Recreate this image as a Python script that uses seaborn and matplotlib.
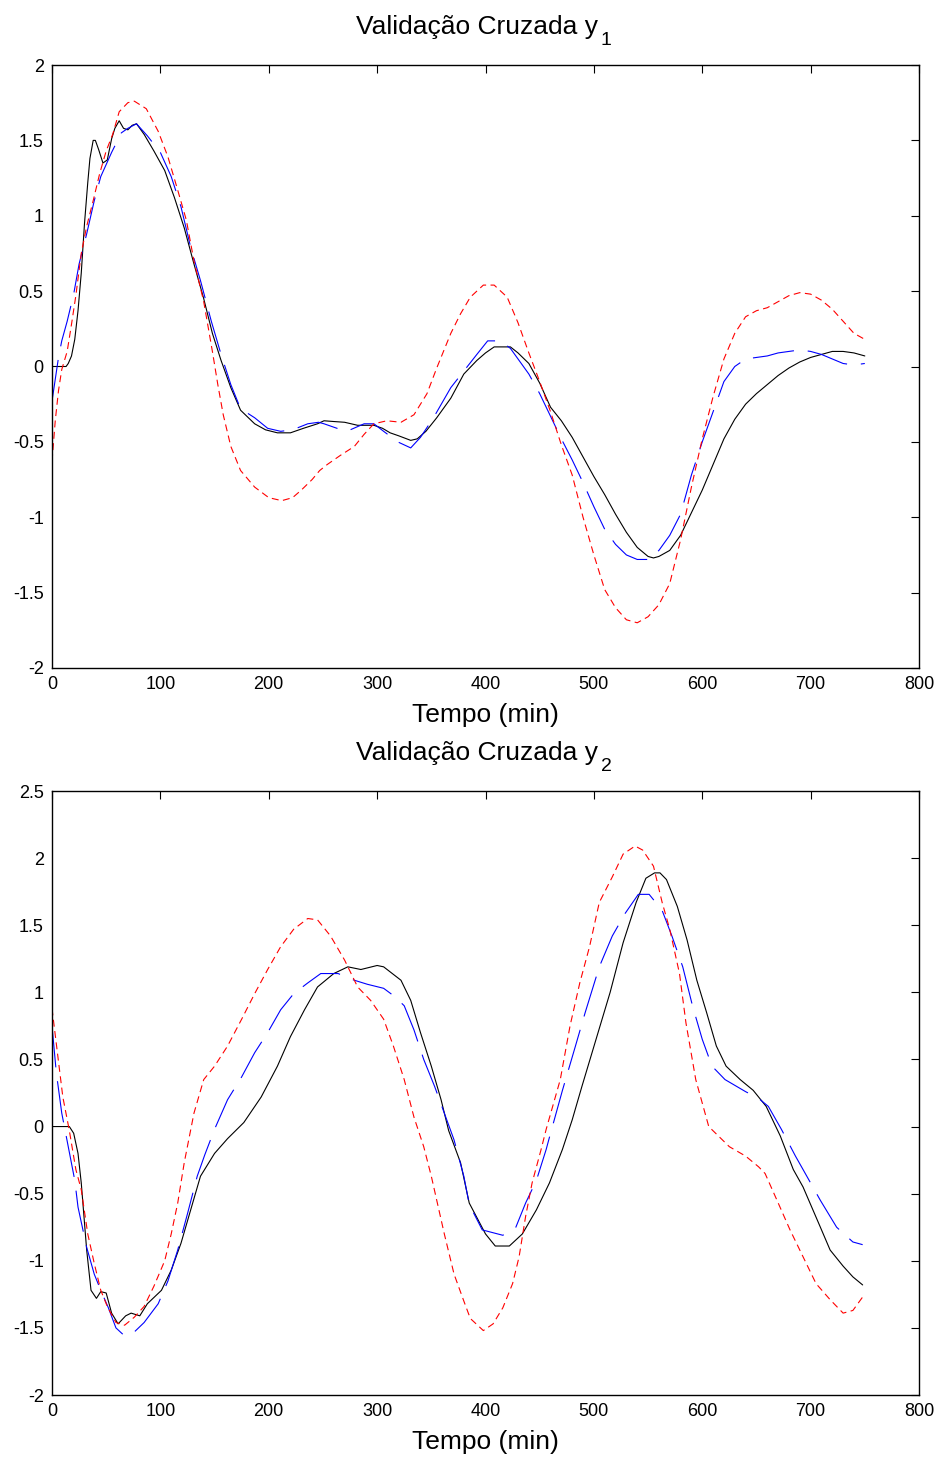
import matplotlib
matplotlib.use("Agg")
import matplotlib.pyplot as plt
import seaborn as sns
import pandas as pd

# ---------------- data: y1 ----------------
t1_meas = [0, 5, 10, 13, 15, 18, 21, 24, 27, 30,
           33, 35, 38, 40, 43, 47, 51, 55, 58, 62,
           66, 70, 74, 78, 85, 94, 104, 113, 122, 131,
           140, 148, 156, 165, 174, 187, 197, 208, 220, 232,
           245, 251, 260, 270, 282, 297, 305, 312, 320, 331,
           337, 345, 355, 368, 380, 392, 400, 408, 415, 423,
           430, 440, 450, 460, 470, 480, 490, 500, 510, 520,
           530, 540, 550, 555, 560, 570, 580, 590, 600, 610,
           620, 630, 640, 650, 660, 670, 680, 690, 700, 710,
           720, 730, 740, 750]
y1_meas = [0, 0, 0, 0, 0.02, 0.07, 0.18, 0.37, 0.62, 0.95,
           1.22, 1.38, 1.5, 1.5, 1.44, 1.35, 1.37, 1.51, 1.58, 1.63,
           1.58, 1.57, 1.6, 1.61, 1.54, 1.43, 1.3, 1.12, 0.92, 0.68,
           0.45, 0.22, 0.04, -0.14, -0.29, -0.38, -0.42, -0.44, -0.44, -0.41,
           -0.38, -0.36, -0.365, -0.37, -0.39, -0.39, -0.41, -0.44, -0.46, -0.49,
           -0.48, -0.43, -0.34, -0.21, -0.05, 0.04, 0.09, 0.13, 0.13, 0.13,
           0.09, 0.02, -0.11, -0.27, -0.36, -0.47, -0.6, -0.73, -0.85, -0.98,
           -1.1, -1.2, -1.26, -1.27, -1.26, -1.22, -1.12, -0.97, -0.82, -0.65,
           -0.48, -0.35, -0.25, -0.18, -0.12, -0.06, -0.01, 0.03, 0.06, 0.08,
           0.1, 0.1, 0.09, 0.07]

t1_red = [0, 3, 6, 9, 14, 18, 22, 27, 32, 38,
          44, 50, 56, 62, 70, 76, 87, 98, 107, 116,
          124, 131, 140, 148, 153, 158, 165, 174, 187, 200,
          212, 222, 230, 240, 247, 254, 266, 279, 288, 297,
          309, 322, 334, 346, 355, 368, 377, 386, 398, 408,
          420, 430, 440, 450, 460, 470, 480, 490, 500, 510,
          520, 530, 540, 550, 560, 570, 580, 590, 600, 610,
          620, 630, 640, 650, 660, 670, 680, 690, 700, 710,
          720, 730, 740, 750]
y1_red = [-0.63, -0.36, -0.16, -0.02, 0.1, 0.28, 0.47, 0.75, 0.93, 1.1,
          1.28, 1.43, 1.54, 1.69, 1.75, 1.76, 1.71, 1.56, 1.39, 1.17,
          0.97, 0.7, 0.43, 0.1, -0.12, -0.32, -0.53, -0.69, -0.8, -0.87,
          -0.89, -0.87, -0.82, -0.75, -0.69, -0.65, -0.59, -0.53, -0.45, -0.38,
          -0.36, -0.37, -0.32, -0.18, -0.01, 0.22, 0.35, 0.46, 0.54, 0.54,
          0.46, 0.29, 0.09, -0.1, -0.3, -0.52, -0.72, -1.0, -1.25, -1.48,
          -1.6, -1.68, -1.7, -1.66, -1.58, -1.44, -1.15, -0.8, -0.48, -0.2,
          0.05, 0.22, 0.33, 0.37, 0.39, 0.43, 0.47, 0.49, 0.48, 0.44,
          0.38, 0.3, 0.22, 0.18]

t1_blue = [0, 6, 9, 14, 20, 25, 32, 39, 45, 55,
           64, 70, 78, 88, 100, 110, 119, 128, 137, 147,
           156, 165, 174, 187, 199, 211, 222, 236, 246, 251,
           263, 272, 288, 297, 306, 319, 331, 340, 352, 368,
           380, 392, 402, 414, 423, 430, 440, 450, 460, 470,
           480, 490, 500, 510, 520, 530, 540, 550, 560, 570,
           580, 590, 600, 610, 620, 630, 640, 650, 660, 670,
           680, 690, 700, 710, 720, 730, 740, 750]
y1_blue = [-0.23, 0.06, 0.17, 0.3, 0.48, 0.68, 0.88, 1.1, 1.26, 1.42,
           1.55, 1.58, 1.61, 1.53, 1.42, 1.26, 1.06, 0.79, 0.57, 0.3,
           0.08, -0.12, -0.28, -0.34, -0.41, -0.43, -0.42, -0.38, -0.37, -0.38,
           -0.41, -0.43, -0.38, -0.38, -0.43, -0.5, -0.54, -0.47, -0.34, -0.14,
           -0.03, 0.08, 0.17, 0.17, 0.12, 0.05, -0.05, -0.18, -0.33, -0.48,
           -0.62, -0.77, -0.93, -1.08, -1.18, -1.25, -1.28, -1.28, -1.22, -1.12,
           -0.98, -0.72, -0.5, -0.3, -0.1, 0.0, 0.05, 0.06, 0.07, 0.09,
           0.1, 0.11, 0.1, 0.08, 0.05, 0.02, 0.01, 0.02]

# ---------------- data: y2 ----------------
t2_meas = [0, 8, 16, 20, 24, 27, 32, 36, 41, 45,
           50, 55, 61, 68, 73, 81, 88, 101, 110, 119,
           128, 137, 150, 162, 177, 193, 208, 220, 233, 245,
           260, 273, 285, 300, 306, 322, 331, 340, 350, 359,
           366, 377, 385, 400, 409, 422, 434, 447, 459, 471,
           480, 489, 502, 515, 527, 539, 548, 556, 561, 567,
           577, 586, 595, 604, 613, 622, 635, 647, 659, 672,
           684, 693, 709, 718, 730, 739, 748]
y2_meas = [0, 0, 0, -0.05, -0.2, -0.42, -0.92, -1.22, -1.28, -1.23,
           -1.24, -1.39, -1.47, -1.41, -1.39, -1.41, -1.32, -1.22, -1.07, -0.87,
           -0.62, -0.37, -0.2, -0.09, 0.03, 0.22, 0.45, 0.67, 0.87, 1.04,
           1.14, 1.19, 1.17, 1.2, 1.19, 1.09, 0.94, 0.7, 0.45, 0.2,
           -0.03, -0.27, -0.57, -0.8, -0.89, -0.89, -0.8, -0.62, -0.42, -0.17,
           0.05, 0.3, 0.65, 1.0, 1.37, 1.67, 1.85, 1.89, 1.89, 1.84,
           1.64, 1.39, 1.09, 0.85, 0.6, 0.45, 0.35, 0.27, 0.15, -0.07,
           -0.32, -0.45, -0.75, -0.92, -1.04, -1.12, -1.18]

t2_red = [0, 5, 10, 16, 22, 27, 33, 39, 45, 51,
          59, 67, 76, 85, 94, 104, 110, 116, 122, 131,
          140, 150, 162, 175, 187, 199, 211, 223, 236, 245,
          257, 270, 282, 294, 306, 315, 325, 334, 343, 350,
          362, 371, 380, 386, 398, 407, 416, 425, 431, 437,
          443, 451, 456, 469, 478, 487, 496, 505, 517, 527,
          538, 545, 555, 563, 570, 579, 585, 594, 606, 625,
          640, 652, 658, 669, 681, 693, 705, 718, 730, 739,
          748]
y2_red = [0.88, 0.55, 0.22, -0.03, -0.32, -0.47, -0.8, -1.02, -1.22, -1.34,
          -1.46, -1.48, -1.42, -1.34, -1.19, -1.0, -0.8, -0.57, -0.27, 0.1,
          0.35, 0.45, 0.6, 0.8, 0.99, 1.17, 1.34, 1.47, 1.55, 1.54,
          1.42, 1.24, 1.04, 0.94, 0.8, 0.6, 0.35, 0.07, -0.15, -0.37,
          -0.8, -1.1, -1.3, -1.43, -1.52, -1.47, -1.35, -1.17, -0.97, -0.67,
          -0.42, -0.18, -0.02, 0.35, 0.75, 1.07, 1.34, 1.67, 1.86, 2.03,
          2.09, 2.06, 1.94, 1.67, 1.47, 1.14, 0.77, 0.35, 0.0, -0.15,
          -0.22, -0.3, -0.35, -0.55, -0.77, -0.97, -1.17, -1.29, -1.39, -1.37,
          -1.27]

t2_blue = [0, 4, 9, 15, 21, 24, 32, 39, 45, 52,
           59, 67, 76, 85, 98, 107, 116, 125, 134, 141,
           150, 162, 175, 187, 199, 211, 223, 236, 248, 264,
           279, 291, 306, 316, 325, 334, 343, 353, 362, 371,
           380, 385, 397, 416, 428, 437, 447, 456, 459, 471,
           483, 492, 505, 517, 529, 541, 551, 563, 572, 582,
           591, 600, 609, 621, 640, 652, 661, 673, 686, 693,
           709, 724, 739, 748]
y2_blue = [0.75, 0.4, 0.1, -0.15, -0.4, -0.6, -0.9, -1.1, -1.22, -1.35,
           -1.5, -1.56, -1.53, -1.46, -1.32, -1.15, -0.92, -0.65, -0.37, -0.21,
           -0.02, 0.2, 0.37, 0.55, 0.7, 0.87, 0.99, 1.07, 1.14, 1.14,
           1.09, 1.06, 1.03, 0.97, 0.9, 0.72, 0.5, 0.3, 0.1, -0.1,
           -0.37, -0.58, -0.77, -0.81, -0.75, -0.57, -0.4, -0.17, -0.08, 0.27,
           0.6, 0.85, 1.19, 1.42, 1.59, 1.73, 1.73, 1.61, 1.42, 1.19,
           0.9, 0.65, 0.45, 0.35, 0.26, 0.21, 0.15, -0.02, -0.22, -0.32,
           -0.55, -0.75, -0.86, -0.88]

x_ticks = [0, 100, 200, 300, 400, 500, 600, 700, 800]
y1_ticks = [-2, -1.5, -1, -0.5, 0, 0.5, 1, 1.5, 2]
y1_ticklabels = ["-2", "-1.5", "-1", "-0.5", "0", "0.5", "1", "1.5", "2"]
y2_ticks = [-2, -1.5, -1, -0.5, 0, 0.5, 1, 1.5, 2, 2.5]
y2_ticklabels = ["-2", "-1.5", "-1", "-0.5", "0", "0.5", "1", "1.5", "2", "2.5"]
title_main = "Validação Cruzada y"
title_subs = ["1", "2"]
xlabel = "Tempo (min)"

# ---------------- style ----------------
sns.set_style("white")
plt.rcParams["font.family"] = ["Liberation Sans", "DejaVu Sans"]
plt.rcParams["text.color"] = "black"
plt.rcParams["axes.labelcolor"] = "black"
plt.rcParams["xtick.color"] = "black"
plt.rcParams["ytick.color"] = "black"
plt.rcParams["lines.scale_dashes"] = False

fig = plt.figure(figsize=(9.39, 14.58), dpi=100)
ax1 = fig.add_axes([52 / 939, 1 - 668 / 1458, 867 / 939, 603 / 1458])
ax2 = fig.add_axes([52 / 939, 1 - 1395 / 1458, 867 / 939, 604 / 1458])

panels = [
    (ax1, (t1_meas, y1_meas), (t1_blue, y1_blue), (t1_red, y1_red), y1_ticks, y1_ticklabels, (-2, 2), title_subs[0]),
    (ax2, (t2_meas, y2_meas), (t2_blue, y2_blue), (t2_red, y2_red), y2_ticks, y2_ticklabels, (-2, 2.5), title_subs[1]),
]

for ax, meas, blue, red, yt, ytl, ylim, sub in panels:
    sns.lineplot(x=meas[0], y=meas[1], ax=ax, color="black", linewidth=0.8,
                 estimator=None, sort=False)
    sns.lineplot(x=blue[0], y=blue[1], ax=ax, color="#0000ff", linewidth=0.8,
                 estimator=None, sort=False)
    ax.lines[-1].set_dashes((30, 10))
    sns.lineplot(x=red[0], y=red[1], ax=ax, color="#ff0000", linewidth=0.8,
                 estimator=None, sort=False)
    ax.lines[-1].set_dashes((5, 3.2))

    ax.set_xlim(0, 800)
    ax.set_ylim(*ylim)
    ax.set_xticks(x_ticks)
    ax.set_xticklabels([str(v) for v in x_ticks])
    ax.set_yticks(yt)
    ax.set_yticklabels(ytl)
    ax.tick_params(direction="in", length=6, width=0.8, top=True, right=True,
                   labelsize=13, colors="black", pad=6)
    for s in ax.spines.values():
        s.set_visible(True)
        s.set_color("black")
        s.set_linewidth(1.0)
    ax.set_xlabel(xlabel, fontsize=19, labelpad=7)
    ax.set_ylabel("")
    t = ax.set_title(title_main, fontsize=19, pad=22, x=0.5 - 8 / 867)
    ax.annotate(sub, xy=(1, 0), xycoords=t, xytext=(2, -6), textcoords="offset pixels",
                ha="left", va="baseline", fontsize=14)

fig.savefig("out.png", dpi=100)
